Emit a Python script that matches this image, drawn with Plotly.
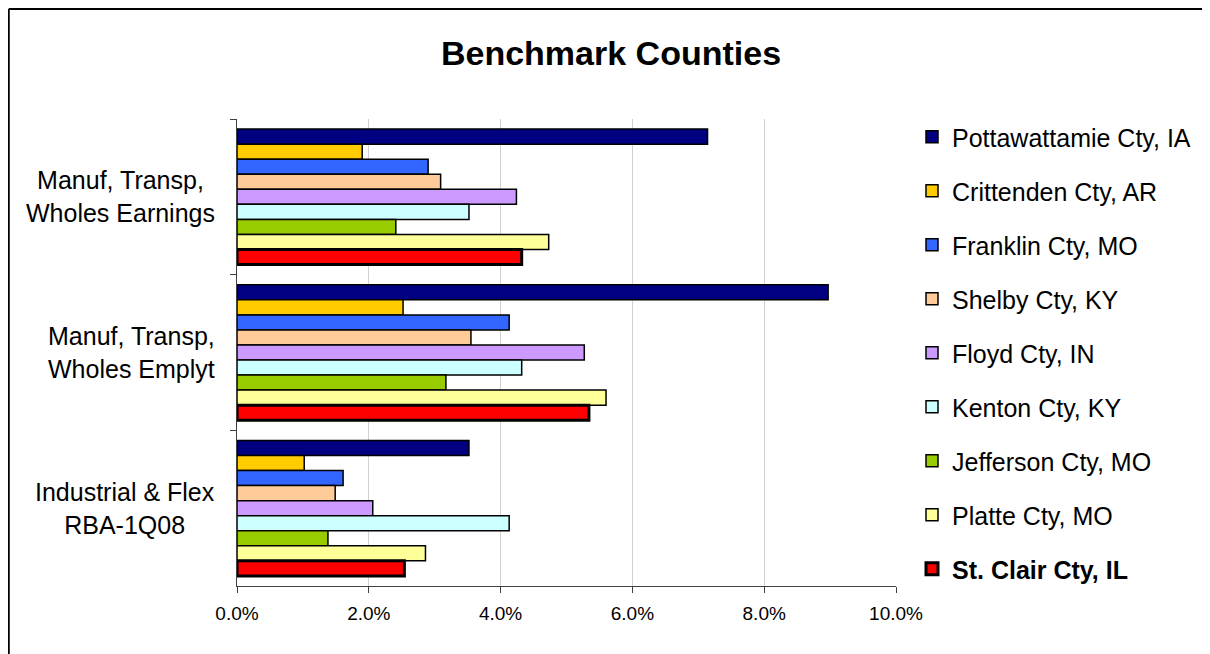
import plotly.graph_objects as go

# categories, top to bottom
categories = [
    "Manuf, Transp,<br>Wholes Earnings",
    "Manuf, Transp,<br>Wholes Emplyt",
    "Industrial & Flex<br>RBA-1Q08",
]

counties = [
    "Pottawattamie Cty, IA",
    "Crittenden Cty, AR",
    "Franklin Cty, MO",
    "Shelby Cty, KY",
    "Floyd Cty, IN",
    "Kenton Cty, KY",
    "Jefferson Cty, MO",
    "Platte Cty, MO",
    "St. Clair Cty, IL",
]

# percent values, one entry per county (same order as counties)
earnings = [7.14, 1.90, 2.90, 3.09, 4.24, 3.52, 2.41, 4.73, 4.32]
employment = [8.97, 2.52, 4.13, 3.55, 5.27, 4.32, 3.17, 5.60, 5.34]
industrial = [3.52, 1.02, 1.61, 1.49, 2.06, 4.13, 1.38, 2.86, 2.54]

colors = ["#000080", "#FFCC00", "#3366FF", "#FFCC99", "#CC99FF",
          "#CCFFFF", "#99CC00", "#FFFF99", "#FF0000"]

FONT = "Liberation Sans, Arial, sans-serif"

# page has an 8px body margin, so the figure is a bit smaller than the window
W, H = 1202, 646
# plot area in figure pixels
L, R, T, B = 229, 888, 111, 578


def px_x(p):
    return (p - L) / (R - L)


def px_y(p):
    return (B - p) / (B - T)


fig = go.Figure()

for i, name in enumerate(counties):
    highlight = i == len(counties) - 1
    fig.add_trace(go.Bar(
        y=categories,
        x=[earnings[i], employment[i], industrial[i]],
        orientation="h",
        name=f"<b>{name}</b>" if highlight else name,
        legendgroup=str(i),
        marker=dict(color=colors[i],
                    line=dict(color="black", width=3 if highlight else 1.5)),
        hovertemplate="%{y}: %{x:.1f}%<extra>" + name + "</extra>",
    ))

fig.update_layout(
    width=W, height=H,
    margin=dict(l=L, r=W - R, t=T, b=H - B),
    paper_bgcolor="white",
    plot_bgcolor="white",
    font=dict(family=FONT, color="black"),
    barmode="group",
    bargap=0.13,
    bargroupgap=0,
    title=dict(text="<b>Benchmark Counties</b>", x=603 / W, xanchor="center",
               y=1 - 45 / H, yanchor="middle", font=dict(size=34)),
    legend=dict(x=px_x(904), y=px_y(106), xanchor="left", yanchor="top",
                font=dict(size=25), tracegroupgap=18.5, traceorder="grouped",
                bgcolor="rgba(0,0,0,0)", maxheight=620),
    showlegend=True,
)

fig.update_xaxes(
    range=[0, 10], dtick=2, tickformat=".1f", ticksuffix="%",
    showgrid=True, gridcolor="#d0d0d0", gridwidth=1,
    showline=True, linecolor="#404040", linewidth=1,
    ticks="outside", ticklen=6, tickcolor="#404040", ticklabelstandoff=4,
    tickfont=dict(size=19), zeroline=False, fixedrange=True,
)

fig.update_yaxes(
    categoryorder="array", categoryarray=categories, autorange="reversed",
    showticklabels=False, tickson="boundaries",
    showline=True, linecolor="#404040", linewidth=1,
    ticks="outside", ticklen=6, tickcolor="#404040",
    showgrid=False, fixedrange=True,
)

# category labels, centred lines, right edge near the axis
for c in categories:
    fig.add_annotation(
        x=px_x(209), y=c, xref="paper", yref="y",
        text=c, showarrow=False, xanchor="right", yanchor="middle",
        align="center", font=dict(size=25),
    )

# chart border (left and top edges visible)
fig.add_shape(type="line", xref="paper", yref="paper",
              x0=px_x(0.75), x1=px_x(W), y0=px_y(1), y1=px_y(1),
              line=dict(color="black", width=2))
fig.add_shape(type="line", xref="paper", yref="paper",
              x0=px_x(0.75), x1=px_x(0.75), y0=px_y(1), y1=px_y(H),
              line=dict(color="black", width=2))

fig.write_html("out.html")
